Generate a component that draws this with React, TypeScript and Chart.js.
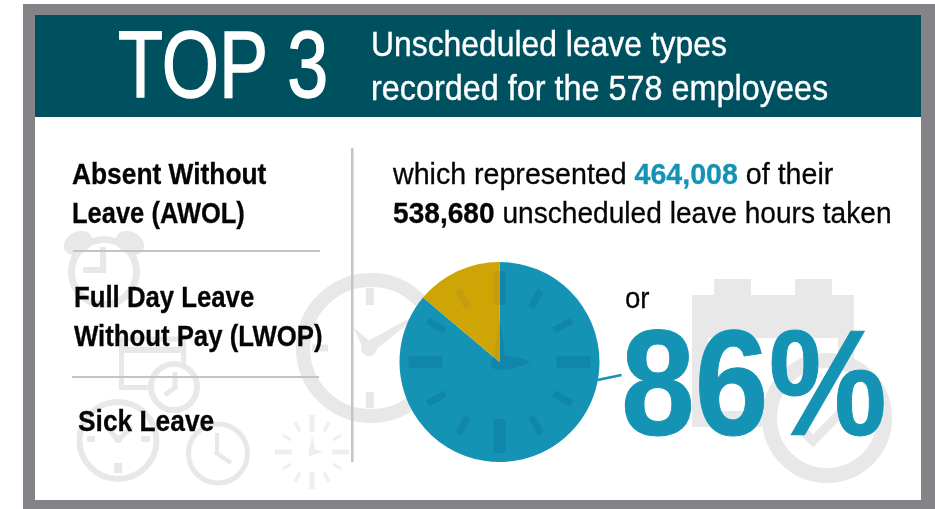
import React, { useEffect, useRef } from "react";
import { Chart, registerables } from "chart.js";

Chart.register(...registerables);

const sliceLabels = ["Top 3 unscheduled leave types", "Other unscheduled leave"];
const sliceHours = [464008, 74672];
const sliceColors = ["#1493b5", "#cda605"];
const faceColors = ["rgba(0, 85, 130, 0.2)", "rgba(140, 100, 70, 0.14)"];

const FONT = '"Liberation Sans", Arial, sans-serif';

type TextProps = { x: number; base: number; size: number; bold?: boolean; color?: string; sx?: number; stroke?: number; children: React.ReactNode };

function T({ x, base, size, bold, color = "#050505", sx = 1, stroke = 0, children }: TextProps) {
  return (
    <div
      style={{
        position: "absolute",
        left: x,
        top: base - 0.8465 * size,
        fontFamily: FONT,
        fontSize: size,
        lineHeight: `${size}px`,
        fontWeight: bold ? 700 : 400,
        color,
        whiteSpace: "nowrap",
        transformOrigin: "left top",
        transform: `scaleX(${sx})`,
        WebkitTextStroke: stroke ? `${stroke}px currentColor` : undefined,
      }}
    >
      {children}
    </div>
  );
}

const GREY = "#e8e8e8";

function ring(c: CanvasRenderingContext2D, x: number, y: number, r: number, w: number) {
  c.lineWidth = w;
  c.beginPath();
  c.arc(x, y, r, 0, Math.PI * 2);
  c.stroke();
}
function seg(c: CanvasRenderingContext2D, x1: number, y1: number, x2: number, y2: number, w: number) {
  c.lineWidth = w;
  c.beginPath();
  c.moveTo(x1, y1);
  c.lineTo(x2, y2);
  c.stroke();
}
function disc(c: CanvasRenderingContext2D, x: number, y: number, r: number) {
  c.beginPath();
  c.arc(x, y, r, 0, Math.PI * 2);
  c.fill();
}
function tri(c: CanvasRenderingContext2D, x1: number, y1: number, x2: number, y2: number, x3: number, y3: number) {
  c.beginPath();
  c.moveTo(x1, y1);
  c.lineTo(x2, y2);
  c.lineTo(x3, y3);
  c.closePath();
  c.fill();
}

const backdrop = {
  id: "backdrop",
  beforeDraw(chart: Chart) {
    const c = chart.ctx;
    c.save();
    c.fillStyle = "#848488";
    c.fillRect(23, 4, 912, 505);
    c.fillStyle = "#ffffff";
    c.fillRect(35, 15, 886, 485);
    c.fillStyle = "#005160";
    c.fillRect(35, 15, 886, 102);

    c.strokeStyle = GREY;
    c.fillStyle = GREY;
    c.lineCap = "butt";

    // alarm clock
    ring(c, 104, 272, 32.5, 7);
    c.beginPath(); c.ellipse(78, 243, 15, 11, -0.5, 0, Math.PI * 2); c.fill();
    c.beginPath(); c.ellipse(130, 243, 15, 11, 0.5, 0, Math.PI * 2); c.fill();
    seg(c, 103, 247, 103, 273, 6);
    seg(c, 83, 270, 106, 270, 6);

    // document with clock
    c.lineWidth = 5;
    c.strokeRect(121.5, 339, 62, 48.5);
    c.fillRect(119, 347, 67, 6);
    c.fillStyle = "#ffffff";
    disc(c, 174, 387, 26);
    c.fillStyle = GREY;
    ring(c, 174, 387, 23, 6);
    seg(c, 175, 372, 175, 389, 5);
    seg(c, 177, 386, 165, 395, 5);

    // lower-left clock
    ring(c, 118, 440.5, 38.5, 6);
    seg(c, 118, 463, 118, 473, 8);
    seg(c, 87, 439, 95, 439, 6);
    seg(c, 141, 439, 150, 439, 6);
    seg(c, 118, 441, 106, 425, 5);
    seg(c, 118, 441, 132, 426, 5);
    disc(c, 118, 439, 4);

    // lower clock
    ring(c, 218, 453.5, 29.5, 5);
    seg(c, 217, 433, 217, 455, 4);
    seg(c, 215, 452, 231, 463, 4.5);

    // sun clock
    c.strokeStyle = "#eeeeee";
    c.fillStyle = "#eeeeee";
    for (let i = 0; i < 12; i++) {
      const a = (i * Math.PI * 2) / 12;
      const major = i % 3 === 0;
      const r1 = major ? 20 : 24;
      const r2 = major ? 37 : 34;
      seg(c, 312 + Math.sin(a) * r1, 452 - Math.cos(a) * r1, 312 + Math.sin(a) * r2, 452 - Math.cos(a) * r2, major ? 5 : 3);
    }
    tri(c, 312, 435, 315, 449, 309, 455);
    tri(c, 309, 447, 323, 452, 309, 456);
    c.strokeStyle = GREY;
    c.fillStyle = GREY;

    // big clock behind pie
    ring(c, 371, 348, 68, 14);
    seg(c, 370, 288, 370, 305, 8);
    seg(c, 370, 392, 370, 408, 8);
    seg(c, 312, 348, 328, 348, 7);
    disc(c, 369, 348, 8);
    tri(c, 353, 327, 362, 346, 372, 343);
    tri(c, 425, 310, 366, 342, 374, 351);

    // calendar
    c.fillRect(692, 295, 162, 132);
    c.fillRect(714, 279, 37, 16);
    c.fillRect(795, 279, 37, 16);
    c.fillStyle = "#ffffff";
    c.fillRect(708, 338, 130, 73);
    disc(c, 827, 418, 65);
    c.fillStyle = GREY;
    ring(c, 827, 418, 57.5, 15);
    seg(c, 810, 444, 850, 403, 9);
    seg(c, 813, 441, 798, 426, 9);

    // divider rules
    c.fillStyle = "#c4c4c4";
    c.fillRect(73, 250, 247, 2);
    c.fillRect(72, 376, 247, 2);
    c.fillRect(351, 148, 2.5, 314);
    c.restore();
  },
  afterDatasetsDraw(chart: Chart) {
    const c = chart.ctx;
    const arcs = chart.getDatasetMeta(0).data as any[];
    const { x, y, outerRadius: r } = arcs[0];
    c.save();
    // leader line from the pie to the big percentage
    c.strokeStyle = sliceColors[0];
    seg(c, x + r - 2, y + 18, x + r + 22, y + 13, 2.5);
    // clock face printed on the pie, tinted per slice
    arcs.forEach((arc, idx) => {
      c.save();
      c.beginPath();
      c.moveTo(x, y);
      c.arc(x, y, r, arc.startAngle, arc.endAngle);
      c.closePath();
      c.clip();
      c.strokeStyle = faceColors[idx];
      c.fillStyle = faceColors[idx];
      for (let i = 0; i < 12; i++) {
        const a = (i * Math.PI * 2) / 12;
        const major = i % 3 === 0;
        const r1 = major ? r * 0.57 : r * 0.63;
        const r2 = major ? r * 0.91 : r * 0.83;
        seg(c, x + Math.sin(a) * r1, y - Math.cos(a) * r1, x + Math.sin(a) * r2, y - Math.cos(a) * r2, major ? 12 : 7);
      }
      c.beginPath();
      c.moveTo(x, y - 42);
      c.quadraticCurveTo(x + 6, y - 10, x + 5, y - 6);
      c.quadraticCurveTo(x + 20, y - 6, x + 31, y);
      c.quadraticCurveTo(x + 15, y + 8, x - 2, y + 8);
      c.quadraticCurveTo(x - 10, y + 6, x - 9, y);
      c.quadraticCurveTo(x - 8, y - 3, x - 5, y - 5);
      c.quadraticCurveTo(x - 3, y - 25, x, y - 42);
      c.closePath();
      c.fill();
      c.restore();
    });
    c.restore();
  },
};

export default function App() {
  const ref = useRef<HTMLCanvasElement>(null);
  useEffect(() => {
    document.body.style.margin = "0";
    const chart = new Chart(ref.current!, {
      type: "pie",
      data: {
        labels: sliceLabels,
        datasets: [{ data: sliceHours, backgroundColor: sliceColors, borderWidth: 0 }],
      },
      options: {
        responsive: false,
        animation: false,
        layout: { padding: { left: 399.5, right: 335.5, top: 262, bottom: 47 } },
        plugins: { legend: { display: false }, tooltip: { enabled: false } },
      },
      plugins: [backdrop as any],
    });
    return () => chart.destroy();
  }, []);
  return (
    <div style={{ position: "relative", width: 935, height: 509, overflow: "hidden", background: "#ffffff" }}>
      <canvas ref={ref} width={935} height={509} style={{ position: "absolute", left: 0, top: 0, display: "block" }} />
      <T x={118} base={97} size={95} color="#ffffff" sx={0.775} stroke={1.5}>TOP 3</T>
      <T x={371} base={56} size={35} color="#ffffff" sx={0.91} stroke={0.4}>Unscheduled leave types</T>
      <T x={371} base={100} size={35} color="#ffffff" sx={0.925} stroke={0.4}>recorded for the 578 employees</T>
      <T x={72} base={184} size={30} bold sx={0.878} stroke={0.3}>Absent Without</T>
      <T x={72} base={223} size={30} bold sx={0.85} stroke={0.3}>Leave (AWOL)</T>
      <T x={74} base={307} size={30} bold sx={0.858} stroke={0.3}>Full Day Leave</T>
      <T x={74} base={346} size={30} bold sx={0.858} stroke={0.3}>Without Pay (LWOP)</T>
      <T x={78} base={431} size={30} bold sx={0.878} stroke={0.3}>Sick Leave</T>
      <T x={393} base={184} size={30} sx={0.953} stroke={0.3}>
        which represented <span style={{ color: sliceColors[0], fontWeight: 700 }}>464,008</span> of their
      </T>
      <T x={393} base={223} size={30} sx={0.937} stroke={0.3}>
        <b>538,680</b> unscheduled leave hours taken
      </T>
      <T x={625} base={308} size={30} sx={0.92} stroke={0.3}>or</T>
      <T x={621} base={435} size={150} bold color={sliceColors[0]} sx={0.885} stroke={1}>86%</T>
    </div>
  );
}
